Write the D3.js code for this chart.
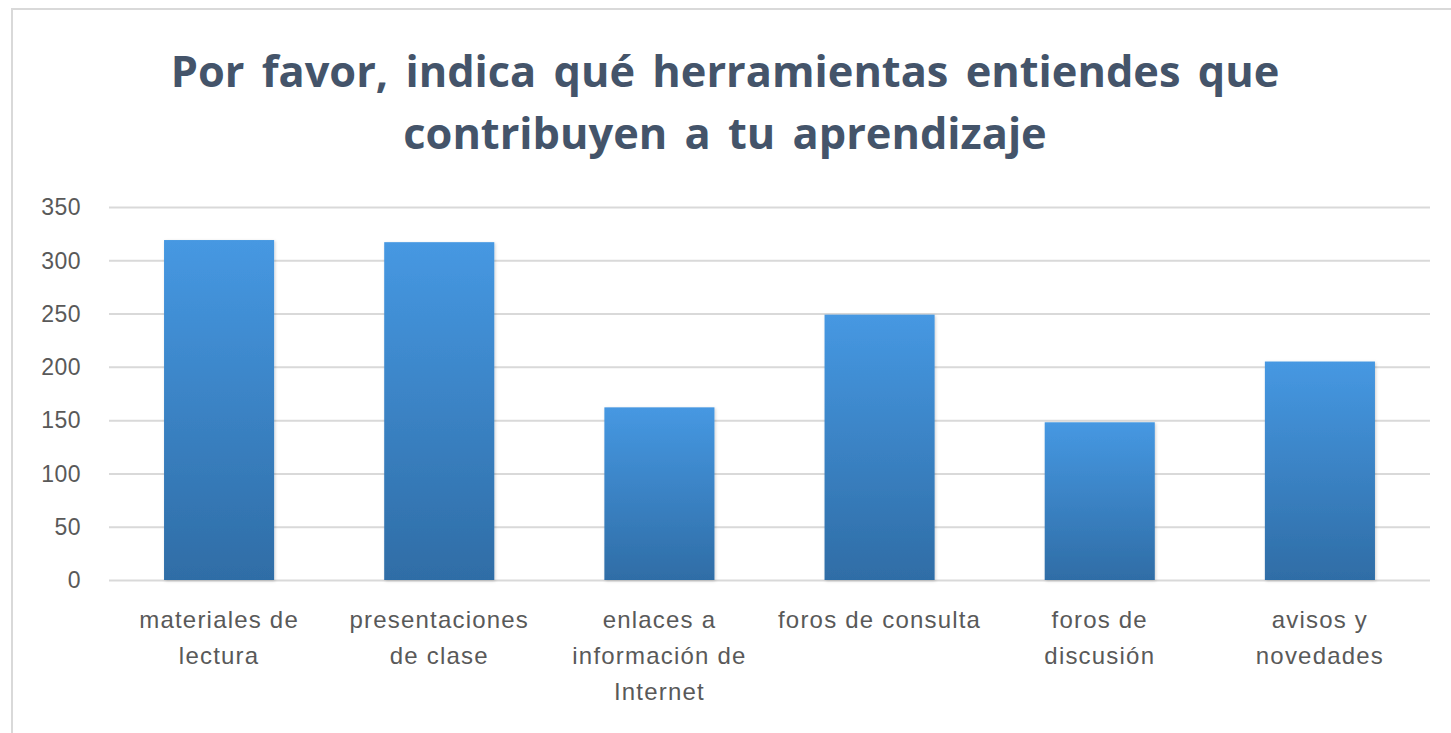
<!DOCTYPE html>
<html>
<head>
<meta charset="utf-8">
<script src="https://cdn.jsdelivr.net/npm/d3@7"></script>
<style>
  body { margin: 0; background: #fff; }
  svg { display: block; font-family: 'Open Sans', sans-serif; }
  .grid line { stroke: #d9d9d9; stroke-width: 2; }
  .grid .domain { display: none; }
  .y-axis text, .x-axis text { fill: #595959; }
</style>
</head>
<body>
<svg width="1451" height="733"></svg>
<script>
var categories = ['materiales de lectura', 'presentaciones de clase', 'enlaces a información de Internet',
  'foros de consulta', 'foros de discusión', 'avisos y novedades'];
// how each label wraps in the picture
var labelLines = [
  ['materiales de', 'lectura'],
  ['presentaciones', 'de clase'],
  ['enlaces a', 'información de', 'Internet'],
  ['foros de consulta'],
  ['foros de', 'discusión'],
  ['avisos y', 'novedades']
];
var values = [319, 317, 162, 249, 148, 205];
var yTicks = [0, 50, 100, 150, 200, 250, 300, 350];
var titleLines = ['Por favor, indica qué herramientas entiendes que', 'contribuyen a tu aprendizaje'];

var svg = d3.select('svg');
var margin = {top: 207, right: 21, bottom: 153, left: 109}
  , width = 1451 - margin.left - margin.right
  , height = 733 - margin.top - margin.bottom;

// chart frame
svg.append('rect')
  .attr('x', 12).attr('y', 9)
  .attr('width', 1460).attr('height', 740)
  .attr('fill', '#fff')
  .attr('stroke', '#d9d9d9')
  .attr('stroke-width', 2);

var defs = svg.append('defs');
var grad = defs.append('linearGradient')
  .attr('id', 'barGrad')
  .attr('x1', 0).attr('y1', 0).attr('x2', 0).attr('y2', 1);
grad.append('stop').attr('offset', '0%').attr('stop-color', '#4698e2');
grad.append('stop').attr('offset', '100%').attr('stop-color', '#2f6da6');

var shadow = defs.append('filter').attr('id', 'shadow')
  .attr('x', '-10%').attr('y', '-10%').attr('width', '130%').attr('height', '130%');
shadow.append('feDropShadow')
  .attr('dx', 1).attr('dy', 1).attr('stdDeviation', 1.5)
  .attr('flood-color', '#000').attr('flood-opacity', 0.18);

// title
var title = svg.append('text')
  .attr('x', 725)
  .attr('text-anchor', 'middle')
  .attr('font-weight', 'bold')
  .attr('font-size', 42)
  .attr('word-spacing', 6)
  .attr('fill', '#44546a');
title.selectAll('tspan')
  .data(titleLines)
  .enter().append('tspan')
  .attr('x', 725)
  .attr('y', function(d, i) { return 87 + i * 62; })
  .text(function(d) { return d; });
// scale the title so the first line spans like the reference
var firstLen = title.select('tspan').node().getComputedTextLength();
title.attr('font-size', 42 * 1110 / firstLen);

var g = svg.append('g')
  .attr('transform', 'translate(' + margin.left + ',' + margin.top + ')');

var xScale = d3.scaleBand()
  .domain(categories)
  .range([0, width])
  .paddingInner(0.5)
  .paddingOuter(0.25);

var yScale = d3.scaleLinear()
  .domain([0, 350])
  .range([height, 0]);

// gridlines
g.append('g')
  .attr('class', 'grid')
  .call(d3.axisLeft(yScale).tickValues(yTicks).tickSize(-width).tickFormat(''));

// y axis labels
var yAxis = g.append('g')
  .attr('class', 'y-axis')
  .call(d3.axisLeft(yScale).tickValues(yTicks).tickSize(0).tickPadding(28));
yAxis.select('.domain').remove();
yAxis.selectAll('text')
  .attr('font-size', 23)
  .attr('letter-spacing', 0.5)
  .attr('dy', '0.34em');

// bars
g.selectAll('.bar')
  .data(values)
  .enter().append('rect')
  .attr('class', 'bar')
  .attr('x', function(d, i) { return xScale(categories[i]); })
  .attr('y', function(d) { return yScale(d); })
  .attr('width', xScale.bandwidth())
  .attr('height', function(d) { return height - yScale(d); })
  .attr('fill', 'url(#barGrad)')
  .attr('filter', 'url(#shadow)');

// x axis
var xAxis = g.append('g')
  .attr('class', 'x-axis')
  .attr('transform', 'translate(0,' + height + ')')
  .call(d3.axisBottom(xScale).tickSize(0).tickFormat(''));
xAxis.select('.domain').remove();

xAxis.selectAll('.tick text').each(function(d, i) {
  var t = d3.select(this)
    .attr('font-size', 24)
    .attr('letter-spacing', 1.2)
    .attr('y', 0)
    .attr('dy', null);
  t.selectAll('tspan')
    .data(labelLines[i])
    .enter().append('tspan')
    .attr('x', 0)
    .attr('y', function(s, j) { return 48 + j * 36; })
    .text(function(s) { return s; });
});
</script>
</body>
</html>
